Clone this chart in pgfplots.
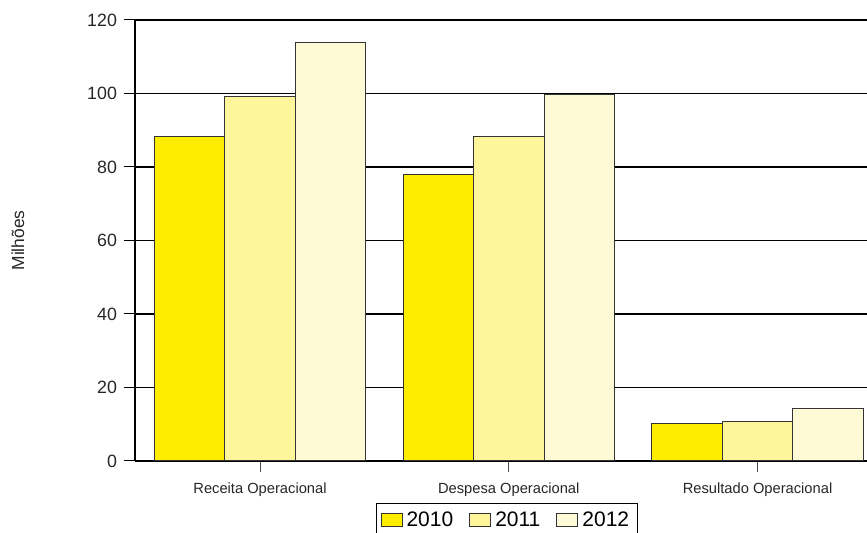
\documentclass[border=0pt]{standalone}
\usepackage{pgfplots}
\pgfplotsset{compat=1.18}
\usepackage{fontspec}
\setmainfont{Liberation Sans}
\definecolor{cA}{HTML}{FFED00}
\definecolor{cB}{HTML}{FFF59A}
\definecolor{cC}{HTML}{FFFAD6}
\begin{document}
\begin{tikzpicture}
\useasboundingbox (-67.5pt,-36pt) rectangle (366pt,230.5pt);
\begin{axis}[
  at={(0pt,0pt)}, anchor=south west,
  scale only axis, width=366pt, height=220.5pt,
  xmin=-0.5025, xmax=2.440, ymin=0, ymax=120,
  axis x line*=bottom, axis y line*=left,
  ytick={0,20,...,120},
  xtick={0,1,2}, xticklabels={Receita Operacional, Despesa Operacional, Resultado Operacional},
  ymajorgrids, grid style={black, line width=0.6pt},
  axis line style={black, line width=0.6pt},
  ytick style={black, line width=0.5pt},
  xtick style={black!70, line width=0.45pt},
  tick align=outside, major tick length=5.5pt,
  /pgf/number format/assume math mode=true,
  yticklabel style={font=\fontsize{8.9}{10}\selectfont, text=black!85},
  xticklabel style={font=\fontsize{7.35}{9}\selectfont, text=black!85, yshift=-2pt},
  ylabel={Milhões}, ylabel style={font=\fontsize{8.7}{10}\selectfont, text=black!85, at={(axis description cs:-0.16,0.5)}, anchor=center},
  ybar, bar width=0.2834,
  legend style={at={(axis description cs:0.508,-0.0952)}, anchor=north, legend columns=3, font=\fontsize{10.5}{12}\selectfont, draw=black, line width=0.6pt, inner sep=2pt, /tikz/every even column/.append style={column sep=6pt}},
  legend image code/.code={\draw[#1, line width=0.5pt] (0pt,-3.25pt) rectangle (10.5pt,3.25pt);},
]
\addplot[fill=cA, draw=black!80, line width=0.5pt, bar shift=-0.2834] coordinates {(0,88.2) (1,78.0) (2,10.3)};
\addplot[fill=cB, draw=black!80, line width=0.5pt, bar shift=0] coordinates {(0,99.3) (1,88.4) (2,10.8)};
\addplot[fill=cC, draw=black!80, line width=0.5pt, bar shift=0.2834] coordinates {(0,113.9) (1,99.6) (2,14.3)};
\legend{2010,2011,2012}
\end{axis}
\end{tikzpicture}
\end{document}
